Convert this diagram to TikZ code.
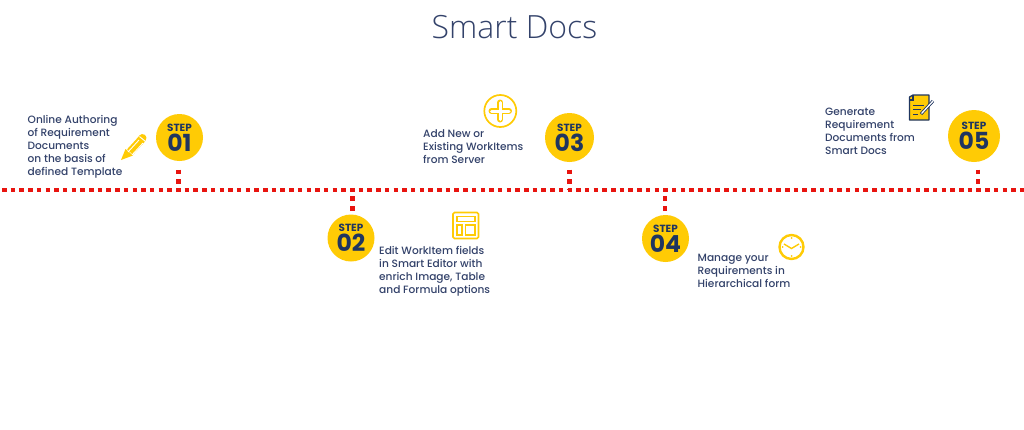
\documentclass[tikz,border=0pt]{standalone}
\usepackage{fontspec}
\setmainfont{Poppins Medium}[BoldFont={Poppins Bold}]
\newfontfamily\titlefont{Open Sans Light}
\definecolor{stepyellow}{HTML}{FFCB05}
\definecolor{stepnavy}{HTML}{1F3560}
\definecolor{textnavy}{HTML}{33426A}
\definecolor{railred}{HTML}{E8140F}
\tikzset{
    stepcircle/.style={circle, fill=stepyellow, text=stepnavy, inner sep=0pt, align=center, font=\bfseries},
    stepdesc/.style={anchor=north west, inner sep=0pt, align=left, text=textnavy, font=\fontsize{10.6}{13}\selectfont},
    railline/.style={railred, line width=4.4pt, dash pattern=on 4.5pt off 4.2pt},
    stemline/.style={railred, line width=4.4pt, dash pattern=on 4.8pt off 5pt},
    iconline/.style={stepyellow, line width=1.7pt},
}
\newcommand{\stepnum}[1]{{\fontsize{10.4}{9}\selectfont STEP}\\[1.5pt]{\fontsize{23.5}{21}\selectfont #1}}
\begin{document}
\begin{tikzpicture}[x=1pt, y=-1pt]
    \useasboundingbox (0, 0) rectangle (1024, 429);
    \node[text=textnavy, font=\titlefont\fontsize{32}{32}\selectfont] (title) at (514.5, 27) {Smart Docs};

    % timeline
    \coordinate (railstart) at (2, 190);
    \coordinate (railend) at (1024, 190);
    \draw[railline] (railstart) -- (railend);

    % step circles
    \node[stepcircle, minimum size=47pt] (step01) at (179.5, 137.5) {\stepnum{01}};
    \node[stepcircle, minimum size=47pt] (step02) at (351, 238) {\stepnum{02}};
    \node[stepcircle, minimum size=49pt] (step03) at (569.5, 137.5) {\stepnum{03}};
    \node[stepcircle, minimum size=47pt] (step04) at (665.5, 238.5) {\stepnum{04}};
    \node[stepcircle, minimum size=52pt] (step05) at (974, 136) {\stepnum{05}};

    % stems
    \coordinate (stem01) at (178.5, 169.5);
    \coordinate (stem02) at (352.5, 211);
    \coordinate (stem03) at (569.5, 169.5);
    \coordinate (stem04) at (665, 211);
    \coordinate (stem05) at (978, 169.5);
    \draw[stemline] (stem01) -- (stem01 |- railstart);
    \draw[stemline] (stem02) -- (stem02 |- railstart);
    \draw[stemline] (stem03) -- (stem03 |- railstart);
    \draw[stemline] (stem04) -- (stem04 |- railstart);
    \draw[stemline] (stem05) -- (stem05 |- railstart);

    % descriptions
    \node[stepdesc] (desc01) at (27.5, 115) {Online Authoring\\of Requirement\\Documents\\on the basis of\\defined Template};
    \node[stepdesc] (desc02) at (379, 246) {Edit WorkItem fields\\in Smart Editor with\\enrich Image, Table\\and Formula options};
    \node[stepdesc] (desc03) at (423, 129.5) {Add New or\\Existing WorkItems\\from Server};
    \node[stepdesc] (desc04) at (697.5, 254) {Manage your\\Requirements in\\Hierarchical form};
    \node[stepdesc] (desc05) at (825, 107.5) {Generate\\Requirement\\Documents from\\Smart Docs};

    % pencil icon
    \draw[stepyellow, line width=8pt] (130, 152) -- (141, 140);
    \draw[stepyellow, line width=8pt, line cap=round] (141, 140) -- (142.5, 138);
    \fill[stepyellow] (121, 160) -- (125.5, 149) -- (133, 155.5) -- cycle;
    \draw[white, line width=0.9pt] (128, 152) -- (139, 140);
    \draw[white, line width=0.9pt] (132, 155) -- (143, 143);
    \draw[white, line width=0.9pt] (139.5, 136.5) -- (145.5, 141.5);

    % plus icon
    \draw[iconline] (500.3, 111) circle (16);
    \draw[stepyellow, line width=6pt, line cap=round] (491.5, 111) -- (509, 111) (500.3, 102.5) -- (500.3, 119.5);
    \draw[white, line width=3pt, line cap=round] (491.5, 111) -- (509, 111) (500.3, 102.5) -- (500.3, 119.5);

    % template icon
    \draw[iconline, rounded corners=1.5pt] (453, 212.5) rectangle (478.5, 238.5);
    \draw[iconline, line width=1.3pt] (457, 216.5) rectangle (475, 221.5);
    \draw[iconline, line width=1.3pt] (457, 225) rectangle (462, 235);
    \draw[iconline, line width=1.3pt] (465.5, 225) rectangle (475, 235);

    % clock icon
    \draw[stepyellow, line width=2.4pt] (791.5, 247) circle (12);
    \draw[stepyellow, line width=1.4pt] (784, 244) -- (791.5, 248.5) -- (799, 244);
    \foreach \tx/\ty in {791.5/238, 791.5/256, 782.5/247, 800.5/247}
        \fill[stepyellow] (\tx, \ty) circle (1);

    % document icon
    \draw[stepnavy, fill=stepyellow, line width=1.3pt, line join=round] (909.5, 97) -- (909.5, 120) -- (929, 120) -- (929, 95) -- (913, 95) -- cycle;
    \draw[stepnavy, line width=1.1pt] (913, 95) -- (913, 100) -- (909.5, 100);
    \draw[stepnavy, line width=1pt] (913, 105) -- (924, 105) (913, 109.5) -- (921, 109.5) (913, 114) -- (918, 114);
    \draw[stepnavy, line width=3pt] (921, 114) -- (933, 101);
    \draw[white, line width=1.3pt] (921.5, 113.5) -- (933, 101);
\end{tikzpicture}
\end{document}
